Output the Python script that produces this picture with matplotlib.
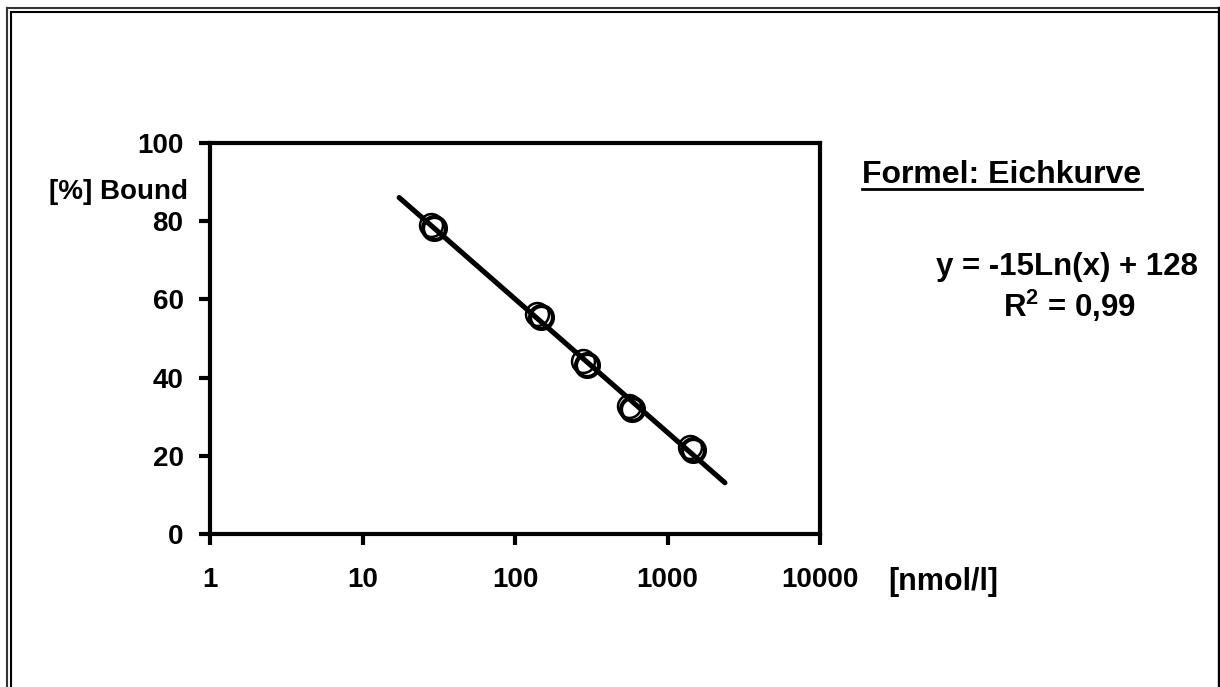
import numpy as np
import matplotlib
matplotlib.use("Agg")
import matplotlib.pyplot as plt
from matplotlib.lines import Line2D
from matplotlib.transforms import offset_copy

plt.rcParams["font.family"] = ["Liberation Sans", "DejaVu Sans"]
plt.rcParams["font.weight"] = "bold"
plt.rcParams["mathtext.fontset"] = "custom"
plt.rcParams["mathtext.rm"] = "Liberation Sans:bold"
plt.rcParams["mathtext.bf"] = "Liberation Sans:bold"

# standards (nmol/l) and measured binding (%)
conc = [28, 140, 280, 560, 1400]
bound = [79.0, 56.3, 44.2, 32.7, 22.3]

# trendline drawn a bit beyond the data, like the Excel forecast option
trend_range = [17.4, 2380]

x_ticks = [1, 10, 100, 1000, 10000]
x_ticklabels = ["1", "10", "100", "1000", "10000"]
y_ticks = [0, 20, 40, 60, 80, 100]

W, H = 1220, 687
fig = plt.figure(figsize=(W / 100, H / 100), dpi=100)
ax = fig.add_axes([210 / W, 1 - 534 / H, 610 / W, 391 / H])

# log fit, y = a*ln(x) + b
a, b = np.polyfit(np.log(conc), bound, 1)
xt = np.array(trend_range)
ax.plot(xt, a * np.log(xt) + b, color="black", lw=3.7, solid_capstyle="round", zorder=2)

# markers with a small drop shadow
shadow = offset_copy(ax.transData, fig=fig, x=2.4, y=-2.4, units="points")
ax.plot(conc, bound, "o", ms=16.5, mfc="none", mec="black", mew=3.0,
        transform=shadow, zorder=3)
ax.plot(conc, bound, "o", ms=16.5, mfc="none", mec="black", mew=1.8, zorder=4)

ax.set_xscale("log")
ax.set_xlim(1, 10000)
ax.set_ylim(0, 100)
ax.set_xticks(x_ticks)
ax.set_xticklabels(x_ticklabels)
ax.minorticks_off()
ax.set_yticks(y_ticks)
ax.tick_params(axis="both", direction="out", length=8, width=3, labelsize=20)
ax.tick_params(axis="x", pad=16)
ax.tick_params(axis="y", pad=11)
ax.xaxis.set_ticks_position("bottom")
ax.yaxis.set_ticks_position("left")
for lab in ax.get_xticklabels() + ax.get_yticklabels():
    lab.set_fontweight("bold")
for sp in ax.spines.values():
    sp.set_linewidth(3)

def px(x, y):
    return x / W, 1 - y / H

fig.text(*px(188, 199), "[%] Bound", ha="right", va="baseline", fontsize=20, fontweight="bold")
fig.text(*px(888, 590), "[nmol/l]", ha="left", va="baseline", fontsize=22, fontweight="bold")
title = fig.text(*px(1002, 183), "Formel: Eichkurve", ha="center", va="baseline",
                 fontsize=23, fontweight="bold")
fig.text(*px(1198, 275), "y = -15Ln(x) + 128", ha="right", va="baseline",
         fontsize=22.5, fontweight="bold")
fig.text(*px(1070, 317), "R$^{2}$ = 0,99", ha="center", va="baseline",
         fontsize=22.5, fontweight="bold")

# underline for the heading
fig.canvas.draw()
bb = title.get_window_extent()
uy = 1 - 189 / H
fig.add_artist(Line2D([bb.x0 / W, bb.x1 / W], [uy, uy], color="black", lw=2,
                      transform=fig.transFigure))

# double frame around the chart area
for xx, lw, col in [(7, 1.5, "#333333"), (10.5, 1.5, "black")]:
    fig.add_artist(Line2D([xx / W, xx / W], [0, 1 - (xx + 1) / H], color=col, lw=lw,
                          transform=fig.transFigure))
for yy, x0, lw, col in [(8, 7, 1.5, "#333333"), (12, 10.5, 1.5, "black")]:
    fig.add_artist(Line2D([x0 / W, 1218 / W], [1 - yy / H, 1 - yy / H], color=col, lw=lw,
                          transform=fig.transFigure))
fig.add_artist(Line2D([1218.5 / W, 1218.5 / W], [0, 1 - 8 / H], color="black", lw=2.4,
                      transform=fig.transFigure))

fig.savefig("out.png", dpi=100, facecolor="white")
